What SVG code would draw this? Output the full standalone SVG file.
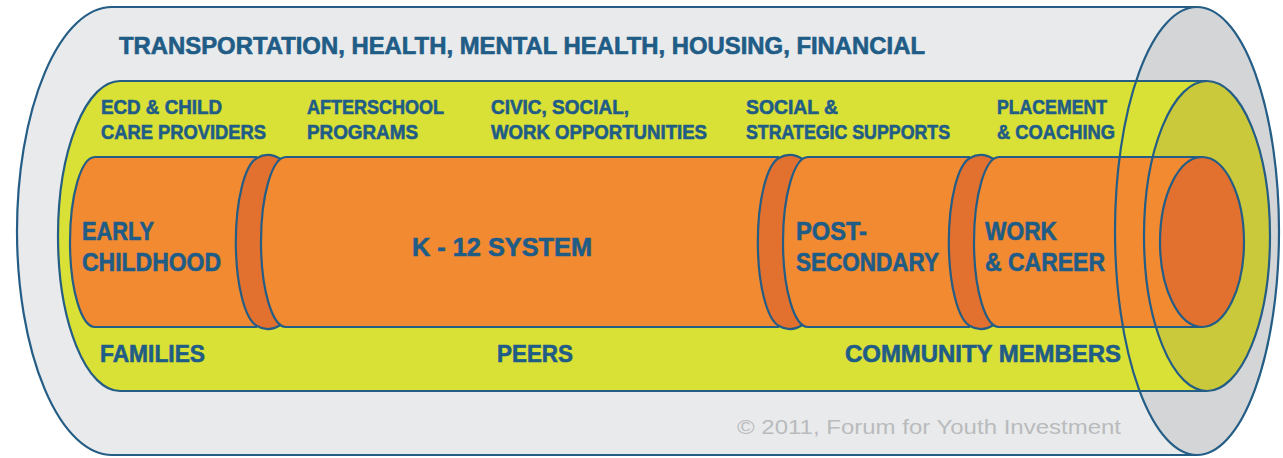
<svg xmlns="http://www.w3.org/2000/svg" width="1283" height="458" viewBox="0 0 1283 458">
  <style>
    .ln { stroke: #245d85; stroke-width: 2.2; stroke-linejoin: round; }
    .gray { fill: #e9eaec; }
    .grayEnd { fill: #d4d5d7; }
    .yel { fill: #d9e036; }
    .yelEnd { fill: #cac93c; }
    .org { fill: #f28a32; }
    .orgEnd { fill: #e2712f; }
    .nofill { fill: none; }
    text { font-family: "Liberation Sans", Arial, sans-serif; }
    .t { fill: #1f5c86; font-weight: bold; stroke: #1f5c86; stroke-width: 0.6; }
    .title { font-size: 23px; }
    .sm { font-size: 20px; }
    .big { font-size: 25px; }
    .bot { font-size: 24px; }
    .copy { fill: #b9bbbd; font-size: 20px; }
  </style>
  <rect width="1283" height="458" fill="#ffffff"/>

  <g id="outer-tube">
    <path class="gray ln" d="M1197,7 L112,7 A95,224 0 0 0 112,455 L1197,455"/>
    <ellipse class="grayEnd" cx="1197" cy="231" rx="82" ry="224"/>
  </g>

  <g id="middle-tube">
    <path class="yel ln" d="M1207,81 L120,81 A62,155 0 0 0 120,391 L1207,391"/>
    <ellipse class="yelEnd" cx="1207" cy="236" rx="63" ry="155"/>
  </g>

  <g id="early-childhood">
    <path class="org ln" d="M257,157 L95,157 A25,85 0 0 0 95,327 L257,327"/>
    <path class="orgEnd ln" d="M257,158 A25,85 0 0 0 257,326 Q269,333 282,324 A25,85 0 0 1 282,160 Q269,151 257,158 Z"/>
  </g>

  <g id="k12-system">
    <path class="org ln" d="M779,157 L286,157 A25,85 0 0 0 286,327 L779,327"/>
    <path class="orgEnd ln" d="M779,158 A25,85 0 0 0 779,326 Q791,333 804,324 A25,85 0 0 1 804,160 Q791,151 779,158 Z"/>
  </g>

  <g id="post-secondary">
    <path class="org ln" d="M970,157 L808,157 A25,85 0 0 0 808,327 L970,327"/>
    <path class="orgEnd ln" d="M970,158 A25,85 0 0 0 970,326 Q982,333 995,324 A25,85 0 0 1 995,160 Q982,151 970,158 Z"/>
  </g>

  <g id="work-career">
    <path class="org ln" d="M1202,157 L999,157 A25,85 0 0 0 999,327 L1202,327"/>
    <ellipse class="orgEnd ln" cx="1202" cy="242" rx="42" ry="85"/>
  </g>

  <g id="end-outlines">
    <ellipse class="nofill ln" cx="1207" cy="236" rx="63" ry="155"/>
    <ellipse class="nofill ln" cx="1197" cy="231" rx="82" ry="224"/>
  </g>

  <g id="labels">
    <text class="t title" x="119" y="54" textLength="806" lengthAdjust="spacingAndGlyphs">TRANSPORTATION, HEALTH, MENTAL HEALTH, HOUSING, FINANCIAL</text>

    <text class="t sm" x="101" y="114" textLength="121" lengthAdjust="spacingAndGlyphs">ECD &amp; CHILD</text>
    <text class="t sm" x="101" y="139" textLength="165" lengthAdjust="spacingAndGlyphs">CARE PROVIDERS</text>
    <text class="t sm" x="307" y="114" textLength="137" lengthAdjust="spacingAndGlyphs">AFTERSCHOOL</text>
    <text class="t sm" x="307" y="139" textLength="111" lengthAdjust="spacingAndGlyphs">PROGRAMS</text>
    <text class="t sm" x="491" y="114" textLength="138" lengthAdjust="spacingAndGlyphs">CIVIC, SOCIAL,</text>
    <text class="t sm" x="491" y="139" textLength="216" lengthAdjust="spacingAndGlyphs">WORK OPPORTUNITIES</text>
    <text class="t sm" x="746" y="114" textLength="92" lengthAdjust="spacingAndGlyphs">SOCIAL &amp;</text>
    <text class="t sm" x="746" y="139" textLength="204" lengthAdjust="spacingAndGlyphs">STRATEGIC SUPPORTS</text>
    <text class="t sm" x="997" y="114" textLength="110" lengthAdjust="spacingAndGlyphs">PLACEMENT</text>
    <text class="t sm" x="997" y="139" textLength="118" lengthAdjust="spacingAndGlyphs">&amp; COACHING</text>

    <text class="t big" x="82" y="240" textLength="72" lengthAdjust="spacingAndGlyphs">EARLY</text>
    <text class="t big" x="82" y="271" textLength="139" lengthAdjust="spacingAndGlyphs">CHILDHOOD</text>
    <text class="t big" x="412" y="256" textLength="180" lengthAdjust="spacingAndGlyphs">K - 12 SYSTEM</text>
    <text class="t big" x="796" y="240" textLength="71" lengthAdjust="spacingAndGlyphs">POST-</text>
    <text class="t big" x="796" y="271" textLength="143" lengthAdjust="spacingAndGlyphs">SECONDARY</text>
    <text class="t big" x="985" y="240" textLength="72" lengthAdjust="spacingAndGlyphs">WORK</text>
    <text class="t big" x="985" y="271" textLength="120" lengthAdjust="spacingAndGlyphs">&amp; CAREER</text>

    <text class="t bot" x="100" y="362" textLength="105" lengthAdjust="spacingAndGlyphs">FAMILIES</text>
    <text class="t bot" x="497" y="362" textLength="76" lengthAdjust="spacingAndGlyphs">PEERS</text>
    <text class="t bot" x="845" y="362" textLength="276" lengthAdjust="spacingAndGlyphs">COMMUNITY MEMBERS</text>

    <text class="copy" x="737" y="434" textLength="384" lengthAdjust="spacingAndGlyphs">© 2011, Forum for Youth Investment</text>
  </g>
</svg>
